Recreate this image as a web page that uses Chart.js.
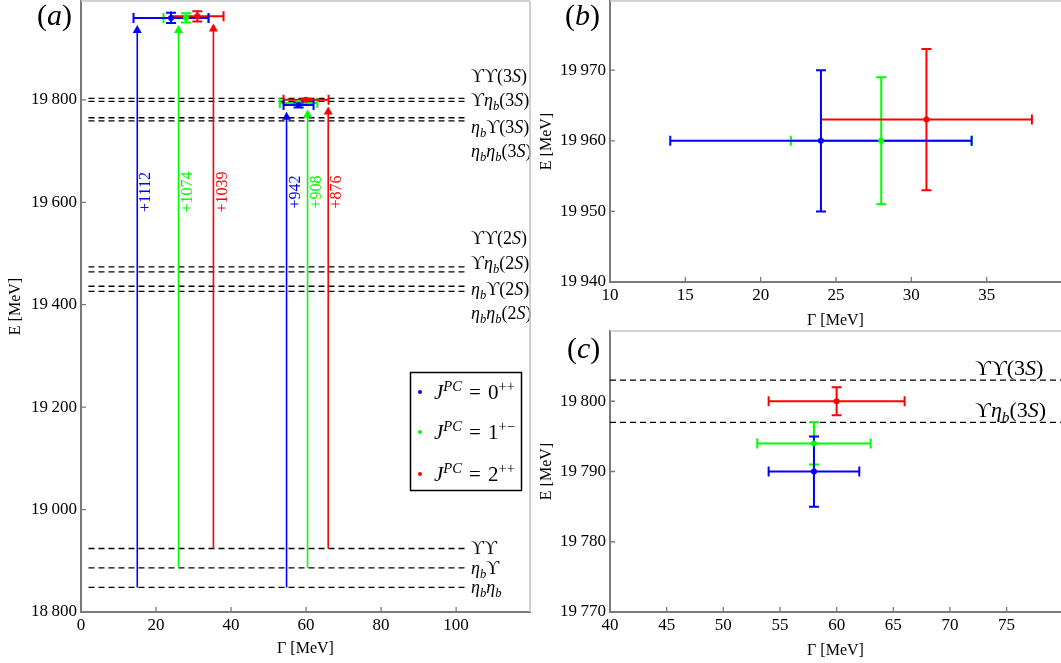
<!DOCTYPE html>
<html>
<head>
<meta charset="utf-8">
<script src="https://cdn.jsdelivr.net/npm/chart.js@4.4.1/dist/chart.umd.min.js"></script>
<style>
  html, body { margin: 0; padding: 0; background: #fff; }
  #wrap { position: relative; width: 1061px; height: 663px; overflow: hidden; }
  canvas { position: absolute; }
  #ca { left: 0; top: 0; }
  #cb { left: 540px; top: 0; }
  #cc { left: 540px; top: 330px; }
</style>
</head>
<body>
<div id="wrap">
  <canvas id="ca" width="540" height="663"></canvas>
  <canvas id="cb" width="521" height="330"></canvas>
  <canvas id="cc" width="521" height="333"></canvas>
</div>
<script>
// J^PC channels
const channels = ['J^{PC}\u2004=\u20040^{++}', 'J^{PC}\u2004=\u20041^{+\u2212}', 'J^{PC}\u2004=\u20042^{++}'];
const colors = ['#0000ff', '#00ff00', '#ff0000'];

// upper resonance (panel b): width and mass with errors
const upperWidth = [24, 28, 31];
const upperWidthLo = [14, 22, 24];
const upperWidthHi = [34, 34, 38];
const upperMass = [19960, 19960, 19963];
const upperMassLo = [19950, 19951, 19953];
const upperMassHi = [19970, 19969, 19973];

// lower resonance (panel c)
const lowerWidth = [58, 58, 60];
const lowerWidthLo = [54, 53, 54];
const lowerWidthHi = [62, 63, 66];
const lowerMass = [19790, 19794, 19800];
const lowerMassLo = [19785, 19791, 19798];
const lowerMassHi = [19795, 19797, 19802];

// two-meson thresholds
const thresholdNames = ['\u03D2\u03D2(3S)', '\u03D2\u03B7_b(3S)', '\u03B7_b\u03D2(3S)', '\u03B7_b\u03B7_b(3S)',
  '\u03D2\u03D2(2S)', '\u03D2\u03B7_b(2S)', '\u03B7_b\u03D2(2S)', '\u03B7_b\u03B7_b(2S)',
  '\u03D2\u03D2', '\u03B7_b\u03D2', '\u03B7_b\u03B7_b'];
const thresholdMass = [19803, 19797, 19765, 19759, 19474, 19464, 19436, 19426, 18924, 18886, 18848];
// threshold each channel is measured from (0++ -> eta_b eta_b, 1+- -> eta_b Upsilon, 2++ -> Upsilon Upsilon)
const channelThreshold = [18848, 18886, 18924];

// tick values
const aXTicks = [0, 20, 40, 60, 80, 100];
const aYTicks = [18800, 19000, 19200, 19400, 19600, 19800];
const bXTicks = [10, 15, 20, 25, 30, 35];
const bYTicks = [19940, 19950, 19960, 19970];
const cXTicks = [40, 45, 50, 55, 60, 65, 70, 75];
const cYTicks = [19770, 19780, 19790, 19800];

const SERIF = "'Liberation Serif', 'DejaVu Serif', serif";

function fmt(v) {
  return String(v).replace(/\B(?=(\d{3})+(?!\d))/g, '\u2009');
}

// tiny rich-text: _x subscript, ^{..} superscript, latin letters and eta in italic
function runsOf(str) {
  const runs = [];
  let i = 0;
  while (i < str.length) {
    const ch = str[i];
    if (ch === '_' || ch === '^') {
      const script = ch === '_' ? 1 : -1;
      i++;
      let txt;
      if (str[i] === '{') { const j = str.indexOf('}', i); txt = str.slice(i + 1, j); i = j + 1; }
      else { txt = str[i]; i++; }
      for (const c of txt) runs.push({ c, script });
      continue;
    }
    runs.push({ c: ch, script: 0 });
    i++;
  }
  return runs;
}

function drawRich(ctx, str, x, y, size, align) {
  const runs = runsOf(str);
  const fontFor = r => (/[A-Za-z\u03B7]/.test(r.c) ? 'italic ' : '') +
    (r.script ? size * 0.7 : size) + 'px ' + SERIF;
  let w = 0;
  runs.forEach(r => { ctx.font = fontFor(r); r.w = ctx.measureText(r.c).width; w += r.w; });
  let cx = align === 'center' ? x - w / 2 : align === 'right' ? x - w : x;
  ctx.textAlign = 'left';
  ctx.textBaseline = 'alphabetic';
  runs.forEach(r => {
    ctx.font = fontFor(r);
    const dy = r.script === 1 ? size * 0.22 : r.script === -1 ? -size * 0.4 : 0;
    ctx.fillText(r.c, cx, y + dy);
    cx += r.w;
  });
}

function errorBar(ctx, xs, ys, g, gLo, gHi, m, mLo, mHi, color) {
  const x = xs.getPixelForValue(g), y = ys.getPixelForValue(m);
  const x0 = xs.getPixelForValue(gLo), x1 = xs.getPixelForValue(gHi);
  const y0 = ys.getPixelForValue(mLo), y1 = ys.getPixelForValue(mHi);
  ctx.strokeStyle = color;
  ctx.lineWidth = 2;
  ctx.setLineDash([]);
  ctx.beginPath();
  ctx.moveTo(x0, y); ctx.lineTo(x1, y);
  ctx.moveTo(x0, y - 5); ctx.lineTo(x0, y + 5);
  ctx.moveTo(x1, y - 5); ctx.lineTo(x1, y + 5);
  ctx.moveTo(x, y0); ctx.lineTo(x, y1);
  ctx.moveTo(x - 5, y0); ctx.lineTo(x + 5, y0);
  ctx.moveTo(x - 5, y1); ctx.lineTo(x + 5, y1);
  ctx.stroke();
}

function drawErrorBars(ctx, xs, ys, w, wLo, wHi, m, mLo, mHi) {
  // blue drawn last so it sits on top
  [1, 2, 0].forEach(i => errorBar(ctx, xs, ys, w[i], wLo[i], wHi[i], m[i], mLo[i], mHi[i], colors[i]));
}

function dashed(ctx, x0, x1, y) {
  ctx.strokeStyle = '#000';
  ctx.lineWidth = 1.3;
  ctx.setLineDash([6, 4]);
  ctx.beginPath();
  ctx.moveTo(x0, y); ctx.lineTo(x1, y);
  ctx.stroke();
  ctx.setLineDash([]);
}

function arrow(ctx, x, yFrom, yTo, color, text, yText) {
  ctx.strokeStyle = color;
  ctx.fillStyle = color;
  ctx.lineWidth = 1.6;
  ctx.beginPath();
  ctx.moveTo(x, yFrom); ctx.lineTo(x, yTo + 6);
  ctx.stroke();
  ctx.beginPath();
  ctx.moveTo(x, yTo); ctx.lineTo(x - 4.5, yTo + 8); ctx.lineTo(x + 4.5, yTo + 8);
  ctx.closePath();
  ctx.fill();
  ctx.save();
  ctx.translate(x + 9, yText);
  ctx.rotate(-Math.PI / 2);
  ctx.font = '16px ' + SERIF;
  ctx.textAlign = 'center';
  ctx.textBaseline = 'middle';
  ctx.fillText(text, 0, 0);
  ctx.restore();
}

// frame: light top/right edge, inward ticks, panel tag and axis titles
function frameAndTitles(chart, spec) {
  const ctx = chart.ctx, a = chart.chartArea, xs = chart.scales.x, ys = chart.scales.y;
  ctx.save();
  ctx.strokeStyle = '#c4c4c4';
  ctx.lineWidth = 1.6;
  ctx.beginPath();
  ctx.moveTo(a.left, a.top); ctx.lineTo(a.right, a.top);
  if (spec.rightFrame) { ctx.moveTo(a.right, a.top); ctx.lineTo(a.right, a.bottom); }
  ctx.stroke();
  ctx.strokeStyle = '#7a7a7a';
  ctx.lineWidth = 1.3;
  ctx.beginPath();
  xs.ticks.forEach(t => { const p = xs.getPixelForValue(t.value); ctx.moveTo(p, a.bottom); ctx.lineTo(p, a.bottom - 5); });
  ys.ticks.forEach(t => { const p = ys.getPixelForValue(t.value); ctx.moveTo(a.left, p); ctx.lineTo(a.left + 5, p); });
  ctx.stroke();

  ctx.fillStyle = '#000';
  drawRich(ctx, spec.tag, spec.tagX, spec.tagY, 30, 'left');
  ctx.font = '16px ' + SERIF;
  ctx.textAlign = 'center';
  ctx.textBaseline = 'alphabetic';
  ctx.fillText('\u0393 [MeV]', (a.left + a.right) / 2, spec.xTitleY);
  ctx.save();
  ctx.translate(spec.yTitleX, (a.top + a.bottom) / 2);
  ctx.rotate(-Math.PI / 2);
  ctx.textBaseline = 'middle';
  ctx.fillText('E [MeV]', 0, 0);
  ctx.restore();
  ctx.restore();
}

function pointSets(w, m) {
  return [0, 1, 2].map(i => ({
    label: channels[i],
    data: w.map((_, k) => ({ x: w[k][i], y: m[k][i] })),
    backgroundColor: colors[i],
    borderColor: colors[i],
    pointRadius: 3,
    borderWidth: 0
  }));
}

function makePanel(id, spec) {
  const tickFont = { family: SERIF, size: 17 };
  return new Chart(document.getElementById(id), {
    type: 'scatter',
    data: { datasets: spec.datasets },
    options: {
      responsive: false,
      animation: false,
      events: [],
      layout: { autoPadding: false, padding: { top: 1, left: 0, right: spec.padRight, bottom: 0 } },
      plugins: { legend: { display: false }, tooltip: { enabled: false } },
      scales: {
        x: {
          type: 'linear', min: spec.xMin, max: spec.xMax,
          afterFit: s => { s.height = spec.xH; s.paddingLeft = 0; s.paddingRight = 0; },
          afterBuildTicks: s => { s.ticks = spec.xTicks.map(v => ({ value: v })); },
          grid: { display: false, drawTicks: false },
          border: { display: true, color: '#7a7a7a', width: 2 },
          ticks: { font: tickFont, color: '#000', padding: 3, maxRotation: 0, autoSkip: false, callback: v => fmt(v) }
        },
        y: {
          type: 'linear', min: spec.yMin, max: spec.yMax,
          afterFit: s => { s.width = spec.yW; s.paddingTop = 0; s.paddingBottom = 0; },
          afterBuildTicks: s => { s.ticks = spec.yTicks.map(v => ({ value: v })); },
          grid: { display: false, drawTicks: false },
          border: { display: true, color: '#7a7a7a', width: 2 },
          ticks: { font: tickFont, color: '#000', padding: 4, autoSkip: false, callback: v => fmt(v) }
        }
      }
    },
    plugins: [{
      id: 'decor',
      beforeDatasetsDraw(chart) {
        const ctx = chart.ctx;
        ctx.save();
        spec.under(ctx, chart.scales.x, chart.scales.y, chart.chartArea);
        ctx.restore();
      },
      afterDraw(chart) {
        frameAndTitles(chart, spec);
        if (spec.over) {
          const ctx = chart.ctx;
          ctx.save();
          spec.over(ctx, chart.scales.x, chart.scales.y, chart.chartArea);
          ctx.restore();
        }
      }
    }]
  });
}

// panel (a): overview
const arrowXUpper = [15, 26, 35.3];
const arrowXLower = [54.8, 60.4, 65.9];
const labelPixelY = [76, 100, 127, 151, 238, 263, 289, 313];

makePanel('ca', {
  datasets: pointSets([upperWidth, lowerWidth], [upperMass, lowerMass]),
  xMin: 0, xMax: 119.7, yMin: 18800, yMax: 19993,
  xTicks: aXTicks, yTicks: aYTicks,
  yW: 81, xH: 51, padRight: 10, rightFrame: true,
  tag: '(a)', tagX: 37, tagY: 25,
  xTitleY: 653, yTitleX: 16,
  under(ctx, xs, ys) {
    const x0 = xs.getPixelForValue(2), x1 = xs.getPixelForValue(102.4);
    thresholdMass.forEach(m => dashed(ctx, x0, x1, ys.getPixelForValue(m)));
    ctx.fillStyle = '#000';
    thresholdNames.forEach((name, i) => {
      const cy = i < labelPixelY.length ? labelPixelY[i] : ys.getPixelForValue(thresholdMass[i]);
      drawRich(ctx, name, 471, cy + 6, 18, 'left');
    });
    const yText = ys.getPixelForValue(19620);
    [0, 1, 2].forEach(i => {
      arrow(ctx, xs.getPixelForValue(arrowXUpper[i]), ys.getPixelForValue(channelThreshold[i]),
        ys.getPixelForValue(upperMass[i] - 14), colors[i], '+' + (upperMass[i] - channelThreshold[i]), yText);
      arrow(ctx, xs.getPixelForValue(arrowXLower[i]), ys.getPixelForValue(channelThreshold[i]),
        ys.getPixelForValue(lowerMass[i] - 13), colors[i], '+' + (lowerMass[i] - channelThreshold[i]), yText);
    });
    drawErrorBars(ctx, xs, ys, upperWidth, upperWidthLo, upperWidthHi, upperMass, upperMassLo, upperMassHi);
    drawErrorBars(ctx, xs, ys, lowerWidth, lowerWidthLo, lowerWidthHi, lowerMass, lowerMassLo, lowerMassHi);
  },
  over(ctx) {
    // legend box
    ctx.strokeStyle = '#000';
    ctx.lineWidth = 1.5;
    ctx.strokeRect(410.5, 372.5, 111, 118);
    const rows = [392, 432, 474];
    rows.forEach((y, i) => {
      ctx.fillStyle = colors[i];
      ctx.beginPath(); ctx.arc(420, y, 2, 0, Math.PI * 2); ctx.fill();
      ctx.fillStyle = '#000';
      drawRich(ctx, channels[i], 434, y + 7, 21, 'left');
    });
  }
});

// panel (b): upper resonance
makePanel('cb', {
  datasets: pointSets([upperWidth], [upperMass]),
  xMin: 10, xMax: 39.93, yMin: 19940, yMax: 19979.8,
  xTicks: bXTicks, yTicks: bYTicks,
  yW: 70, xH: 48, padRight: 0, rightFrame: false,
  tag: '(b)', tagX: 25, tagY: 25,
  xTitleY: 325, yTitleX: 7,
  under(ctx, xs, ys) {
    drawErrorBars(ctx, xs, ys, upperWidth, upperWidthLo, upperWidthHi, upperMass, upperMassLo, upperMassHi);
  }
});

// panel (c): lower resonance with nearby thresholds
makePanel('cc', {
  datasets: pointSets([lowerWidth], [lowerMass]),
  xMin: 40, xMax: 79.8, yMin: 19770, yMax: 19810,
  xTicks: cXTicks, yTicks: cYTicks,
  yW: 70, xH: 51, padRight: 0, rightFrame: false,
  tag: '(c)', tagX: 27, tagY: 28,
  xTitleY: 325, yTitleX: 7,
  under(ctx, xs, ys, a) {
    [0, 1].forEach(i => {
      const y = ys.getPixelForValue(thresholdMass[i]);
      dashed(ctx, a.left, a.right, y);
      ctx.fillStyle = '#000';
      drawRich(ctx, thresholdNames[i], 435, y - 5, 22, 'left');
    });
    drawErrorBars(ctx, xs, ys, lowerWidth, lowerWidthLo, lowerWidthHi, lowerMass, lowerMassLo, lowerMassHi);
  }
});
</script>
</body>
</html>
